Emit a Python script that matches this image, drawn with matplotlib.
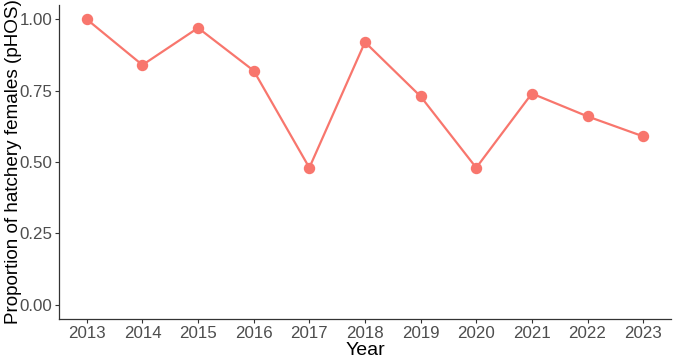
import matplotlib
matplotlib.use("Agg")
import matplotlib.pyplot as plt

years = [2013, 2014, 2015, 2016, 2017, 2018, 2019, 2020, 2021, 2022, 2023]
phos = [1.00, 0.84, 0.97, 0.82, 0.48, 0.92, 0.73, 0.48, 0.74, 0.66, 0.59]
yticks = [0.00, 0.25, 0.50, 0.75, 1.00]

RED = "#F8766D"
plt.rcParams["font.family"] = ["Liberation Sans", "DejaVu Sans"]

fig = plt.figure(figsize=(6.75, 3.61), dpi=100)
ax = fig.add_axes([0.0874, 0.1163, 0.9066, 0.8697])

ax.plot(years, phos, color=RED, lw=1.6, marker="o", ms=7.2, mec=RED, mfc=RED, zorder=3)

ax.set_xlim(2012.5, 2023.5)
ax.set_ylim(-0.05, 1.05)
ax.set_xticks(years)
ax.set_xticklabels([str(y) for y in years])
ax.set_yticks(yticks)
ax.set_yticklabels([f"{v:.2f}" for v in yticks])

for s in ["top", "right"]:
    ax.spines[s].set_visible(False)
for s in ["left", "bottom"]:
    ax.spines[s].set_color("#333333")
    ax.spines[s].set_linewidth(0.9)
ax.tick_params(axis="both", colors="#333333", labelcolor="#4D4D4D",
               labelsize=12.2, length=3, width=0.8, pad=2)

ax.set_xlabel("Year", fontsize=14, labelpad=1)
ax.set_ylabel("Proportion of hatchery females (pHOS)", fontsize=13.6)
ax.yaxis.set_label_coords(-0.061, 0.5)

fig.savefig("out.png", dpi=100)
